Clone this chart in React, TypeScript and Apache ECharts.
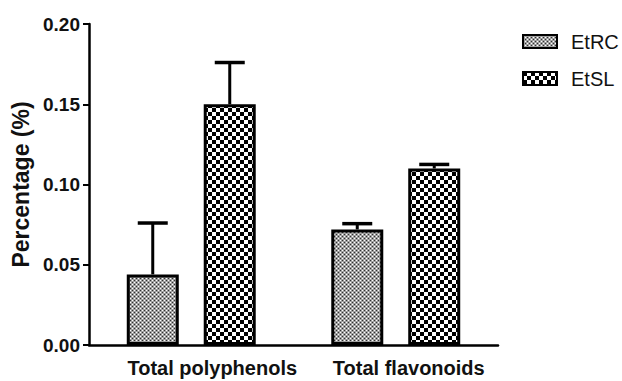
import React, { useEffect, useRef } from 'react';
import * as echarts from 'echarts';

const categories = ['Total polyphenols', 'Total flavonoids'];
const seriesNames = ['EtRC', 'EtSL'];
const etrcValues = [0.044, 0.072];
const etrcErrors = [0.032, 0.0036];
const etslValues = [0.15, 0.11];
const etslErrors = [0.026, 0.0025];

const FONT = '"Liberation Sans", Arial, sans-serif';

function makePattern(kind: 'fine' | 'checker') {
  const c = document.createElement('canvas');
  if (kind === 'fine') {
    c.width = 4;
    c.height = 4;
    const ctx = c.getContext('2d')!;
    ctx.fillStyle = '#a0a0a0';
    ctx.fillRect(0, 0, 4, 4);
    ctx.fillStyle = '#ffffff';
    ctx.fillRect(0, 0, 1, 1);
    ctx.fillRect(2, 2, 1, 1);
    ctx.fillStyle = '#303030';
    ctx.fillRect(2, 0, 1, 1);
    ctx.fillRect(0, 2, 1, 1);
  } else {
    c.width = 8;
    c.height = 8;
    const ctx = c.getContext('2d')!;
    ctx.fillStyle = '#ffffff';
    ctx.fillRect(0, 0, 8, 8);
    ctx.fillStyle = '#000000';
    ctx.fillRect(0, 0, 4, 4);
    ctx.fillRect(4, 4, 4, 4);
  }
  return { image: c, repeat: 'repeat', imageWidth: c.width, imageHeight: c.height };
}

export default function App() {
  const ref = useRef<HTMLDivElement>(null);
  useEffect(() => {
    document.body.style.margin = '0';
    const chart = echarts.init(ref.current!, null, { renderer: 'svg' });
    const BAR_W = 52;
    const OFF = 38.5;
    const errData: number[][] = [];
    categories.forEach((_, i) => {
      errData.push([i, etrcValues[i], etrcErrors[i], 0]);
      errData.push([i, etslValues[i], etslErrors[i], 1]);
    });
    const option: any = {
      animation: false,
      backgroundColor: '#ffffff',
      grid: { left: 89, right: 124, top: 24, bottom: 36 },
      legend: {
        orient: 'vertical',
        left: 522,
        top: 31,
        padding: 0,
        itemWidth: 34,
        itemHeight: 13,
        itemGap: 16,
        icon: 'rect',
        data: seriesNames,
        textStyle: {
          fontFamily: FONT,
          fontSize: 20,
          color: '#111',
          lineHeight: 21,
          padding: [0, 0, 0, 9],
        },
      },
      xAxis: {
        type: 'category',
        data: categories,
        axisLine: { lineStyle: { color: '#000', width: 2.5 } },
        axisTick: { alignWithLabel: true, length: 8, lineStyle: { color: '#000', width: 2 } },
        axisLabel: {
          margin: 13,
          formatter: (v: string, i: number) => (i === 0 ? `{a|${v}}` : `{b|${v}}`),
          rich: {
            a: { fontFamily: FONT, fontSize: 20, fontWeight: 'bold', color: '#111', padding: [0, 0, 0, 42] },
            b: { fontFamily: FONT, fontSize: 20, fontWeight: 'bold', color: '#111', padding: [0, 0, 0, 26] },
          },
        },
        splitLine: { show: false },
      },
      yAxis: {
        type: 'value',
        min: 0,
        max: 0.2,
        interval: 0.05,
        name: 'Percentage (%)',
        nameLocation: 'middle',
        nameGap: 56,
        nameTextStyle: { fontFamily: FONT, fontSize: 23, fontWeight: 'bold', color: '#111' },
        axisLine: { show: true, lineStyle: { color: '#000', width: 2.5 } },
        axisTick: { show: true, length: 6, lineStyle: { color: '#000', width: 2 } },
        axisLabel: {
          margin: 9,
          fontFamily: FONT,
          fontSize: 19,
          fontWeight: 'bold',
          color: '#111',
          formatter: (v: number) => v.toFixed(2),
        },
        splitLine: { show: false },
      },
      series: [
        {
          name: 'EtRC',
          type: 'bar',
          data: etrcValues,
          barWidth: BAR_W,
          barGap: '48%',
          itemStyle: { color: makePattern('fine'), borderColor: '#000', borderWidth: 3 },
        },
        {
          name: 'EtSL',
          type: 'bar',
          data: etslValues,
          barWidth: BAR_W,
          barGap: '48%',
          itemStyle: { color: makePattern('checker'), borderColor: '#000', borderWidth: 3 },
        },
        {
          name: 'errors',
          type: 'custom',
          z: 10,
          data: errData,
          encode: { x: 0, y: 1 },
          renderItem: (params: any, api: any) => {
            const x = api.value(0);
            const v = api.value(1);
            const e = api.value(2);
            const s = api.value(3);
            const base = api.coord([x, v]);
            const top = api.coord([x, v + e]);
            const cx = base[0] + (s === 0 ? -OFF : OFF);
            return {
              type: 'group',
              children: [
                {
                  type: 'line',
                  shape: { x1: cx, y1: base[1], x2: cx, y2: top[1] },
                  style: { stroke: '#000', lineWidth: 3 },
                },
                {
                  type: 'line',
                  shape: { x1: cx - 15, y1: top[1], x2: cx + 15, y2: top[1] },
                  style: { stroke: '#000', lineWidth: 3.5 },
                },
              ],
            };
          },
        },
      ],
    };
    chart.setOption(option);
    return () => chart.dispose();
  }, []);
  return <div ref={ref} style={{ width: 622, height: 381 }} />;
}
